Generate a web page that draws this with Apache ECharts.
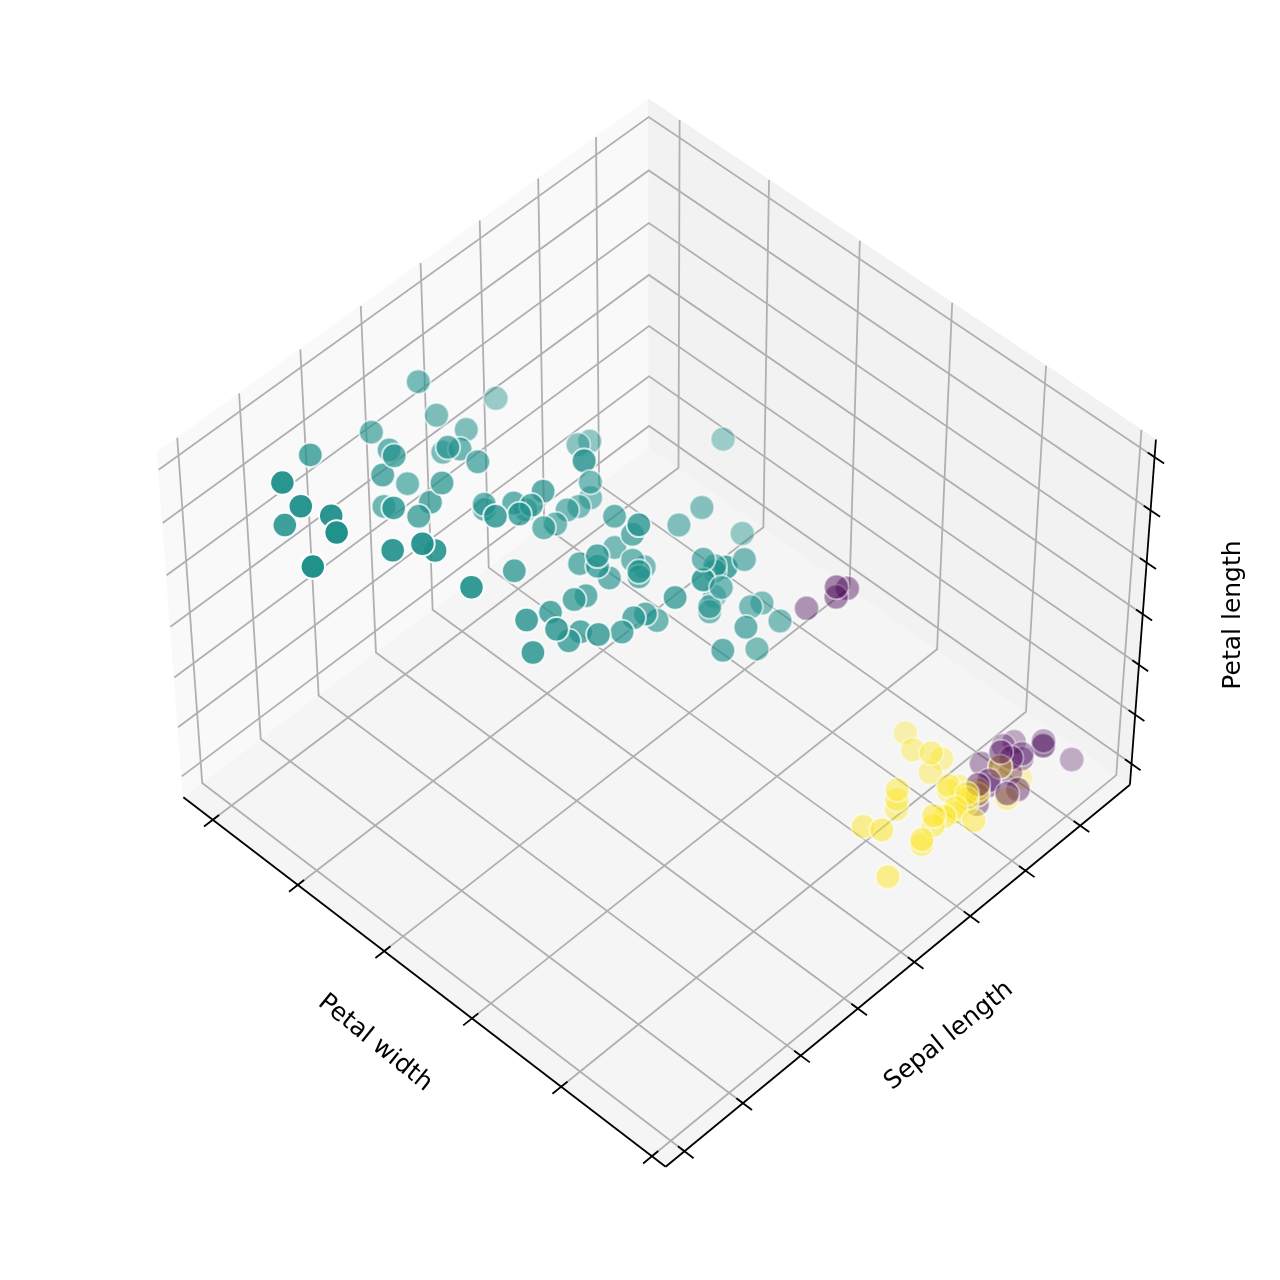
<!DOCTYPE html>
<html>
<head>
<meta charset="utf-8">
<style>html,body{margin:0;padding:0;background:#fff}#chart{width:1280px;height:1280px}</style>
<script src="https://cdn.jsdelivr.net/npm/echarts@6/dist/echarts.min.js"></script>
</head>
<body>
<div id="chart"></div>
<script>
// Values read per cluster: petal width, sepal length, petal length (cm)
const purplePetalWidth  = [0.2,0.2,0.2,0.3,0.2,0.1,0.1,0.1,0.2,0.2,0.2,0.2,0.2,0.2,0.2,0.3,0.2,0.3,0.2,0.2,1.0,1.0,1.1,1.0];
const purpleSepalLength = [4.9,4.7,4.6,4.6,4.4,4.9,4.8,4.3,4.8,5.0,4.7,4.8,4.9,5.0,4.4,4.5,4.4,4.8,4.6,5.0,4.9,5.0,5.1,5.0];
const purplePetalLength = [1.4,1.3,1.5,1.4,1.4,1.5,1.4,1.1,1.9,1.6,1.6,1.6,1.5,1.2,1.3,1.3,1.3,1.4,1.4,1.4,3.3,3.3,3.0,3.5];

const yellowPetalWidth  = [0.2,0.2,0.4,0.2,0.2,0.2,0.2,0.4,0.4,0.3,0.3,0.3,0.2,0.4,0.2,0.5,0.4,0.2,0.2,0.4,0.1,0.2,0.2,0.1,0.2,0.3,0.6,0.4,0.2,0.2];
const yellowSepalLength = [5.1,5.0,5.4,5.0,5.4,4.8,5.8,5.7,5.4,5.1,5.7,5.1,5.4,5.1,4.6,5.1,5.0,5.2,5.2,5.4,5.2,5.5,5.5,4.9,5.1,5.0,5.0,5.1,5.1,5.3];
const yellowPetalLength = [1.4,1.4,1.7,1.5,1.5,1.6,1.2,1.5,1.3,1.4,1.7,1.5,1.7,1.5,1.0,1.7,1.6,1.5,1.4,1.5,1.5,1.4,1.3,1.4,1.5,1.3,1.6,1.9,1.6,1.5];

const tealPetalWidth  = [1.4,1.5,1.5,1.3,1.5,1.3,1.6,1.3,1.4,1.5,1.0,1.4,1.3,1.4,1.5,1.0,1.5,1.1,1.8,1.3,1.5,1.2,1.3,1.4,1.4,1.7,1.5,1.0,1.1,1.0,1.2,1.6,1.5,1.6,1.5,1.3,1.3,1.3,1.2,1.4,1.2,1.3,1.2,1.3,1.3,1.3,2.5,1.9,2.1,1.8,2.2,2.1,1.7,1.8,1.8,2.5,2.0,1.9,2.1,2.0,2.4,2.3,1.8,2.2,2.3,1.5,2.3,2.0,2.0,1.8,2.1,1.8,1.8,1.8,2.1,1.6,1.9,2.0,2.2,1.5,1.4,2.3,2.4,1.8,1.8,2.1,2.4,2.3,1.9,2.3,2.5,2.3,1.9,2.0,2.3,1.8];
const tealSepalLength = [7.0,6.4,6.9,5.5,6.5,5.7,6.3,6.6,5.2,5.9,6.0,6.1,5.6,6.7,5.6,5.8,6.2,5.6,5.9,6.1,6.3,6.1,6.4,6.6,6.8,6.7,6.0,5.7,5.5,5.5,5.8,6.0,5.4,6.0,6.7,6.3,5.6,5.5,5.5,6.1,5.8,5.6,5.7,5.7,6.2,5.7,6.3,5.8,7.1,6.3,6.5,7.6,4.9,7.3,6.7,7.2,6.5,6.4,6.8,5.7,5.8,6.4,6.5,7.7,7.7,6.0,6.9,5.6,7.7,6.3,6.7,7.2,6.2,6.1,6.4,7.2,7.4,7.9,6.4,6.3,6.1,7.7,6.3,6.4,6.0,6.9,6.7,6.9,5.8,6.8,6.7,6.7,6.3,6.5,6.2,5.9];
const tealPetalLength = [4.7,4.5,4.9,4.0,4.6,4.5,4.7,4.6,3.9,4.2,4.0,4.7,3.6,4.4,4.5,4.1,4.5,3.9,4.8,4.0,4.9,4.7,4.3,4.4,4.8,5.0,4.5,3.5,3.8,3.7,3.9,5.1,4.5,4.5,4.7,4.4,4.1,4.0,4.4,4.6,4.0,4.2,4.2,4.1,4.3,4.1,6.0,5.1,5.9,5.6,5.8,6.6,4.5,6.3,5.8,6.1,5.1,5.3,5.5,5.0,5.1,5.3,5.5,6.7,6.9,5.0,5.7,4.9,6.7,4.9,5.7,6.0,4.8,4.9,5.6,5.8,6.1,6.4,5.6,5.1,5.6,6.1,5.6,5.5,4.8,5.4,5.6,5.1,5.1,5.9,5.7,5.2,5.0,5.2,5.4,5.1];

const petalWidthTicks  = [0,0.5,1,1.5,2,2.5];
const sepalLengthTicks = [4.5,5,5.5,6,6.5,7,7.5,8];
const petalLengthTicks = [1,2,3,4,5,6,7];

const axisNames = ['Petal width','Sepal length','Petal length'];

// Axis limits of the box
const limW = [-0.075,2.675], limS = [4.04,8.16], limZ = [0.57,7.33];

// Camera: elevation 48, azimuth 134
const BX = 0.5952, BZ = 0.4464, D = 12.4;
const SX = 7160, SY = 7160, X0 = 657, Y0 = 623;
const el = 48*Math.PI/180, az = 134*Math.PI/180;
const W = [Math.cos(el)*Math.cos(az), Math.cos(el)*Math.sin(az), Math.sin(el)];
const hn = Math.hypot(W[0],W[1]);
const U = [-W[1]/hn, W[0]/hn, 0];
const V = [W[1]*U[2]-W[2]*U[1], W[2]*U[0]-W[0]*U[2], W[0]*U[1]-W[1]*U[0]];
const dot = (a,b)=>a[0]*b[0]+a[1]*b[1]+a[2]*b[2];
function cam(w,s,z){
  return [ BX*(2*(w-limW[0])/(limW[1]-limW[0])-1),
           BX*(2*(s-limS[0])/(limS[1]-limS[0])-1),
           BZ*(2*(z-limZ[0])/(limZ[1]-limZ[0])-1) ];
}
function project(w,s,z){
  const c = cam(w,s,z), k = D-dot(W,c);
  return [dot(U,c)/k, dot(V,c)/k];
}
const depth = (w,s,z)=>dot(W,cam(w,s,z));

// Box frame
const [w0,w1]=limW,[s0,s1]=limS,[z0,z1]=limZ;
const P = (...a)=>project(...a);
const floorPane = [[P(w0,s0,z0),P(w1,s0,z0),P(w1,s1,z0),P(w0,s1,z0)]];
const leftPane  = [[P(w1,s0,z0),P(w1,s1,z0),P(w1,s1,z1),P(w1,s0,z1)]];
const rightPane = [[P(w0,s0,z0),P(w1,s0,z0),P(w1,s0,z1),P(w0,s0,z1)]];
const grid = [];
petalWidthTicks.forEach(t=>grid.push([P(t,s1,z0),P(t,s0,z0),P(t,s0,z1)]));
sepalLengthTicks.forEach(t=>grid.push([P(w0,t,z0),P(w1,t,z0),P(w1,t,z1)]));
petalLengthTicks.forEach(t=>grid.push([P(w1,s1,t),P(w1,s0,t),P(w0,s0,t)]));
const OUT=0.018, IN=0.013, rw=w1-w0, rs=s1-s0;
const axes = [[P(w0,s1,z0),P(w1,s1,z0)],[P(w0,s0,z0),P(w0,s1,z0)],[P(w0,s0,z0),P(w0,s0,z1)]];
petalWidthTicks.forEach(t=>axes.push([P(t,s1-IN*rs,z0),P(t,s1+OUT*rs,z0)]));
sepalLengthTicks.forEach(t=>axes.push([P(w0+IN*rw,t,z0),P(w0-OUT*rw,t,z0)]));
petalLengthTicks.forEach(t=>axes.push([P(w0+IN*rw,s0,t),P(w0-OUT*rw,s0,t)]));

function pathSeries(name,paths,closed,style,z){
  return {
    type:'custom', name, coordinateSystem:'cartesian2d', silent:true, clip:false, z,
    data:paths.map(p=>p[0]),
    renderItem(params,api){
      const pts = paths[params.dataIndex].map(p=>api.coord(p));
      return {type:closed?'polygon':'polyline', shape:{points:pts}, style:api.style(style), silent:true};
    },
    animation:false
  };
}

// Points, far to near, with opacity from depth
const COLORS = {purple:'#440154', teal:'#21918c', yellow:'#fde725'};
let pts = [];
function addCluster(color,ws,ss,zs){
  ws.forEach((w,i)=>pts.push({color,w,s:ss[i],z:zs[i],d:depth(w,ss[i],zs[i])}));
}
addCluster(COLORS.purple,purplePetalWidth,purpleSepalLength,purplePetalLength);
addCluster(COLORS.teal,tealPetalWidth,tealSepalLength,tealPetalLength);
addCluster(COLORS.yellow,yellowPetalWidth,yellowSepalLength,yellowPetalLength);
pts.sort((a,b)=>a.d-b.d);
const dmin=pts[0].d, dmax=pts[pts.length-1].d;
const scatterData = pts.map(p=>({
  value:project(p.w,p.s,p.z),
  itemStyle:{color:p.color,borderColor:'#ffffff',borderWidth:2,opacity:0.3+0.7*(p.d-dmin)/(dmax-dmin)}
}));

const chart = echarts.init(document.getElementById('chart'),null,{renderer:'canvas',width:1280,height:1280});
const labelStyle = {fontFamily:'"DejaVu Sans"',fontSize:25,fill:'#000',textAlign:'center',textVerticalAlign:'middle'};
chart.setOption({
  animation:false,
  backgroundColor:'#ffffff',
  grid:{left:0,right:0,top:0,bottom:0,containLabel:false},
  xAxis:{type:'value',show:false,min:(0-X0)/SX,max:(1280-X0)/SX,scale:true},
  yAxis:{type:'value',show:false,min:(Y0-1280)/SY,max:Y0/SY,scale:true},
  series:[
    pathSeries('floor pane',floorPane,true,{fill:'#f5f5f5',stroke:'#f5f5f5',lineWidth:1},1),
    pathSeries('left pane',leftPane,true,{fill:'#f9f9f9',stroke:'#f9f9f9',lineWidth:1},1),
    pathSeries('right pane',rightPane,true,{fill:'#f2f2f2',stroke:'#f2f2f2',lineWidth:1},1),
    pathSeries('grid',grid,false,{fill:null,stroke:'#b0b0b0',lineWidth:1.8},2),
    pathSeries('axes',axes,false,{fill:null,stroke:'#000000',lineWidth:1.8},3),
    {type:'scatter',name:'points',symbol:'circle',symbolSize:24.5,data:scatterData,z:5,silent:true,animation:false,large:false}
  ],
  graphic:[
    {type:'text',x:375,y:1043,rotation:-39*Math.PI/180,style:{...labelStyle,text:axisNames[0]},z:10},
    {type:'text',x:949,y:1036,rotation:39*Math.PI/180,style:{...labelStyle,text:axisNames[1]},z:10},
    {type:'text',x:1233,y:615,rotation:Math.PI/2,style:{...labelStyle,text:axisNames[2]},z:10}
  ]
});
</script>
</body>
</html>
